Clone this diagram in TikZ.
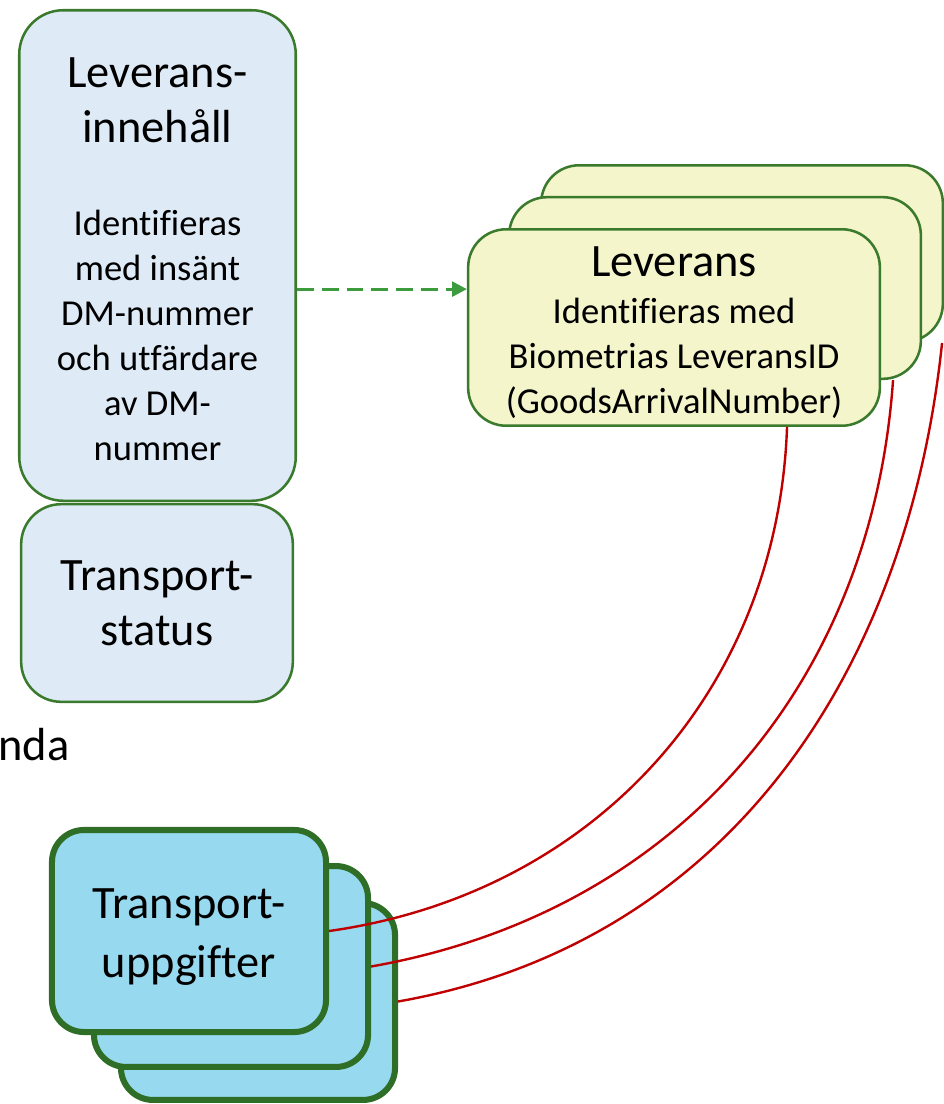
\documentclass[tikz,border=0pt]{standalone}
\usepackage{fontspec}
\setmainfont{Carlito}[Ligatures=NoCommon]
\usetikzlibrary{arrows.meta}
\definecolor{boxgreen}{RGB}{58,122,44}
\definecolor{paleblue}{RGB}{222,235,247}
\definecolor{paleyellow}{RGB}{245,245,204}
\definecolor{skyblue}{RGB}{151,217,238}
\definecolor{darkgreen}{RGB}{46,110,38}
\definecolor{linkred}{RGB}{192,0,0}
\definecolor{arrowgreen}{RGB}{60,155,60}

\begin{document}
\begin{tikzpicture}[x=0.025cm,y=-0.025cm,
    infobox/.style={draw=boxgreen,fill=paleblue,line width=1.8pt,rounded corners=1.1cm,inner sep=0pt,align=center},
    levbox/.style={draw=boxgreen,fill=paleyellow,line width=1.8pt,rounded corners=0.95cm,inner sep=0pt},
    taskbox/.style={draw=darkgreen,fill=skyblue,line width=4.3pt,rounded corners=0.8cm,inner sep=0pt},
    bigtext/.style={inner sep=0pt,align=center,font=\fontsize{33}{39}\selectfont},
    smalltext/.style={inner sep=0pt,align=center,font=\fontsize{26}{32}\selectfont},
    flow/.style={draw=arrowgreen,line width=2.1pt,dash pattern=on 0.42cm off 0.2cm,-{Triangle[length=0.37cm,width=0.37cm]}},
    tie/.style={draw=linkred,line width=1.7pt}]
                \useasboundingbox (0,0) rectangle (943,1104);

                \node[infobox,minimum width=6.91cm,minimum height=12.26cm] (innehall) at (157.5,255.5) {};
                \node[bigtext] (innehallrubrik) at (157.5,100.5) {Leverans-\\innehåll};
                \node[smalltext] (innehalltext) at (157.5,335.5) {Identifieras\\med insänt\\DM-nummer\\och utfärdare\\av DM-\\nummer};
                \node[infobox,rounded corners=1cm,minimum width=6.79cm,minimum height=4.94cm,font=\fontsize{33}{39}\selectfont] (status) at (157,603) {Transport-\\status};

                \node[anchor=base west,inner sep=0pt,font=\fontsize{33}{39}\selectfont] (nda) at (-2,760) {nda};

                \node[levbox,minimum width=10.04cm,minimum height=4.41cm] (lev3) at (742,253.5) {};
                \node[levbox,minimum width=10.29cm,minimum height=4.54cm] (lev2) at (715,288) {};
                \node[levbox,minimum width=10.29cm,minimum height=4.91cm] (lev1) at (674,327.5) {};
                \node[bigtext] (levrubrik) at (674,262) {Leverans};
                \node[smalltext] (levtext) at (674,358) {Identifieras med\\Biometrias LeveransID\\(GoodsArrivalNumber)};

                \node[taskbox,minimum width=6.85cm,minimum height=4.92cm] (tu3) at (258,1001.5) {};
                \node[taskbox,minimum width=6.85cm,minimum height=5.02cm] (tu2) at (231,966.5) {};
                \node[taskbox,minimum width=6.85cm,minimum height=5.05cm] (tu1) at (189,931) {};
                \node[bigtext,font=\fontsize{33}{42}\selectfont] (tutext) at (189,937.5) {Transport-\\uppgifter};

                \draw[flow] ([yshift=-0.84cm]innehall.east) -- ([yshift=-0.84cm]innehall.east -| lev1.west);

                \draw[tie] ([xshift=2.825cm]lev1.south) to[out=-92,in=8] (tu1.east);
                \draw[tie] ([xshift=4.45cm]lev2.south) to[out=-94,in=10] (tu2.east);
                \draw[tie] ([xshift=5cm]lev3.south) to[out=-96,in=10] (tu3.east);
            \end{tikzpicture}
\end{document}
